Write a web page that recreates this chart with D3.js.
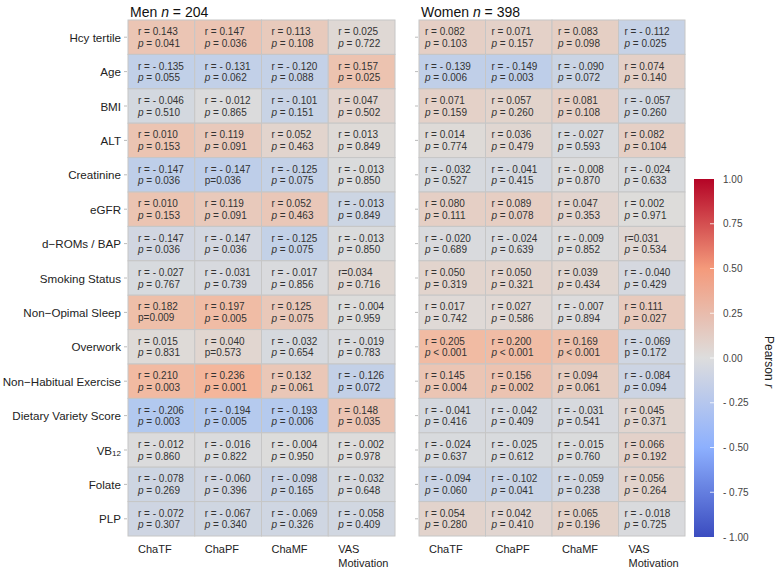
<!DOCTYPE html>
<html>
<head>
<meta charset="utf-8">
<script src="https://cdn.jsdelivr.net/npm/d3@7"></script>
<style>
  body { margin: 0; background: #fff; }
  svg text { font-family: "Liberation Sans", Arial, sans-serif; }
</style>
</head>
<body>
<div id="chart"></div>
<script>
// rows and columns
var rows = ["Hcy tertile", "Age", "BMI", "ALT", "Creatinine", "eGFR", "d\u2212ROMs / BAP",
  "Smoking Status", "Non\u2212Opimal Sleep", "Overwork", "Non\u2212Habitual Exercise",
  "Dietary Variety Score", "VB12", "Folate", "PLP"];
var cols = ["ChaTF", "ChaPF", "ChaMF", "VAS Motivation"];

// men, n = 204
var menR = [
  [0.143, 0.147, 0.113, 0.025],
  [-0.135, -0.131, -0.120, 0.157],
  [-0.046, -0.012, -0.101, 0.047],
  [0.010, 0.119, 0.052, 0.013],
  [-0.147, -0.147, -0.125, -0.013],
  [0.010, 0.119, 0.052, -0.013],
  [-0.147, -0.147, -0.125, -0.013],
  [-0.027, -0.031, -0.017, 0.034],
  [0.182, 0.197, 0.125, -0.004],
  [0.015, 0.040, -0.032, -0.019],
  [0.210, 0.236, 0.132, -0.126],
  [-0.206, -0.194, -0.193, 0.148],
  [-0.012, -0.016, -0.004, -0.002],
  [-0.078, -0.060, -0.098, -0.032],
  [-0.072, -0.067, -0.069, -0.058]
];
var menP = [
  ["0.041", "0.036", "0.108", "0.722"],
  ["0.055", "0.062", "0.088", "0.025"],
  ["0.510", "0.865", "0.151", "0.502"],
  ["0.153", "0.091", "0.463", "0.849"],
  ["0.036", "0.036", "0.075", "0.850"],
  ["0.153", "0.091", "0.463", "0.849"],
  ["0.036", "0.036", "0.075", "0.850"],
  ["0.767", "0.739", "0.856", "0.716"],
  ["0.009", "0.005", "0.075", "0.959"],
  ["0.831", "0.573", "0.654", "0.783"],
  ["0.003", "0.001", "0.061", "0.072"],
  ["0.003", "0.005", "0.006", "0.035"],
  ["0.860", "0.822", "0.950", "0.978"],
  ["0.269", "0.396", "0.165", "0.648"],
  ["0.307", "0.340", "0.326", "0.409"]
];

// women, n = 398
var womenR = [
  [0.082, 0.071, 0.083, -0.112],
  [-0.139, -0.149, -0.090, 0.074],
  [0.071, 0.057, 0.081, -0.057],
  [0.014, 0.036, -0.027, 0.082],
  [-0.032, -0.041, -0.008, -0.024],
  [0.080, 0.089, 0.047, 0.002],
  [-0.020, -0.024, -0.009, 0.031],
  [0.050, 0.050, 0.039, -0.040],
  [0.017, 0.027, -0.007, 0.111],
  [0.205, 0.200, 0.169, -0.069],
  [0.145, 0.156, 0.094, -0.084],
  [-0.041, -0.042, -0.031, 0.045],
  [-0.024, -0.025, -0.015, 0.066],
  [-0.094, -0.102, -0.059, 0.056],
  [0.054, 0.042, 0.065, -0.018]
];
var womenP = [
  ["0.103", "0.157", "0.098", "0.025"],
  ["0.006", "0.003", "0.072", "0.140"],
  ["0.159", "0.260", "0.108", "0.260"],
  ["0.774", "0.479", "0.593", "0.104"],
  ["0.527", "0.415", "0.870", "0.633"],
  ["0.111", "0.078", "0.353", "0.971"],
  ["0.689", "0.639", "0.852", "0.534"],
  ["0.319", "0.321", "0.434", "0.429"],
  ["0.742", "0.586", "0.894", "0.027"],
  ["< 0.001", "< 0.001", "< 0.001", "0.172"],
  ["0.004", "0.002", "0.061", "0.094"],
  ["0.416", "0.409", "0.541", "0.371"],
  ["0.637", "0.612", "0.760", "0.192"],
  ["0.060", "0.041", "0.238", "0.264"],
  ["0.280", "0.410", "0.196", "0.725"]
];

// cells whose shading in the figure differs from the printed r  [row, col, shade]
var menShade = [[3, 0, 0.15], [5, 0, 0.15], [5, 2, 0.13], [5, 3, -0.08], [6, 0, -0.06], [6, 1, -0.05]];
var womenShade = [];
// cells printed without spaces ("r=0.034", "p=0.036") or with an upright p
var menCompactR = [[7, 3]];
var menCompactP = [[4, 1], [8, 0], [9, 1]];
var womenCompactR = [[6, 3]];
var womenUprightP = [[9, 3]];

var barTicks = [1, 0.75, 0.5, 0.25, 0, -0.25, -0.5, -0.75, -1];
var barTickLabels = ["1.00", "0.75", "0.50", "0.25", "0.00", "- 0.25", "- 0.50", "- 0.75", "- 1.00"];

var W = 778, H = 580;
var svg = d3.select("#chart").append("svg").attr("width", W).attr("height", H);

var barColor = d3.scaleLinear()
    .domain([-1, -0.5, 0, 0.5, 1])
    .range(["#3b4cc0", "#8db0fe", "#dddddd", "#f49a7b", "#b40426"]);
var cellColor = d3.scaleLinear()
    .domain([-0.25, 0, 0.25])
    .range(["#a9c5f3", "#dddcdb", "#f5b497"])
    .clamp(true);

var y = d3.scaleBand().domain(rows).range([20, 536]);

function has(list, i, j) {
  return list.some(function(d) { return d[0] === i && d[1] === j; });
}

function panel(opt) {
  var x = d3.scaleBand().domain(cols).range(opt.range);
  var g = svg.append("g");
  var cells = [];
  opt.r.forEach(function(row, i) {
    row.forEach(function(v, j) {
      var s = opt.shade.filter(function(d) { return d[0] === i && d[1] === j; });
      cells.push({i: i, j: j, r: v, p: opt.p[i][j], shade: s.length ? s[0][2] : v});
    });
  });

  g.selectAll("rect.cell").data(cells).enter().append("rect")
    .attr("class", "cell")
    .attr("x", function(d) { return x(cols[d.j]); })
    .attr("y", function(d) { return y(rows[d.i]); })
    .attr("width", x.bandwidth())
    .attr("height", y.bandwidth())
    .attr("fill", function(d) { return cellColor(d.shade); })
    .attr("stroke", "#c6c6c6")
    .attr("stroke-width", 1);

  var fmt = d3.format(".3f");
  var txt = g.selectAll("g.lab").data(cells).enter().append("g")
    .attr("transform", function(d) {
      return "translate(" + (x(cols[d.j]) + opt.pad) + "," + (y(rows[d.i]) + y.bandwidth() / 2) + ")";
    })
    .style("font-size", "10px").attr("fill", "#333");

  txt.append("text").attr("y", -5.5).attr("dominant-baseline", "central")
    .text(function(d) {
      if (has(opt.compactR, d.i, d.j)) return "r=" + fmt(d.r);
      return d.r < 0 ? "r = - " + fmt(-d.r) : "r = " + fmt(d.r);
    });

  var pt = txt.append("text").attr("y", 5.5).attr("dominant-baseline", "central");
  pt.each(function(d) {
    var t = d3.select(this);
    if (has(opt.compactP, d.i, d.j)) { t.text("p=" + d.p); return; }
    var up = has(opt.uprightP, d.i, d.j);
    t.append("tspan").style("font-style", up ? "normal" : "italic").text("p");
    t.append("tspan").text(d.p.charAt(0) === "<" ? " " + d.p : " = " + d.p);
  });

  // small tick marks at row labels
  g.selectAll("line.tk").data(rows).enter().append("line")
    .attr("x1", opt.range[0] - 4).attr("x2", opt.range[0] - 1)
    .attr("y1", function(d) { return y(d) + y.bandwidth() / 2; })
    .attr("y2", function(d) { return y(d) + y.bandwidth() / 2; })
    .attr("stroke", "#aaa").attr("stroke-width", 0.8);

  // column labels
  var cl = g.selectAll("text.col").data(cols).enter().append("text")
    .attr("x", function(d) { return x(d) + 10; })
    .attr("y", 553)
    .style("font-size", "11px").attr("fill", "#222");
  cl.each(function(d) {
    var parts = d.split(" ");
    var t = d3.select(this);
    parts.forEach(function(s, k) {
      t.append("tspan").attr("x", x(d) + 10).attr("dy", k ? 14 : 0).text(s);
    });
  });

  // title
  var tt = g.append("text").attr("x", opt.range[0] + 2).attr("y", 17)
    .style("font-size", "14px").attr("fill", "#111");
  tt.append("tspan").text(opt.title + " ");
  tt.append("tspan").style("font-style", "italic").text("n");
  tt.append("tspan").text(" = " + opt.n);
  return g;
}

panel({range: [128, 395], r: menR, p: menP, shade: menShade, pad: 10,
  compactR: menCompactR, compactP: menCompactP, uprightP: [], title: "Men", n: 204});
panel({range: [419, 685], r: womenR, p: womenP, shade: womenShade, pad: 6,
  compactR: womenCompactR, compactP: [], uprightP: womenUprightP, title: "Women", n: 398});

// row labels (left of men panel)
var rl = svg.append("g").selectAll("text").data(rows).enter().append("text")
  .attr("x", 121)
  .attr("y", function(d) { return y(d) + y.bandwidth() / 2; })
  .attr("text-anchor", "end").attr("dominant-baseline", "central")
  .style("font-size", "11.6px").attr("fill", "#222");
rl.each(function(d) {
  var t = d3.select(this);
  if (d === "VB12") {
    t.append("tspan").text("VB");
    t.append("tspan").style("font-size", "8px").attr("dy", 3).text("12");
  } else {
    t.text(d);
  }
});

// colour bar
var cy = d3.scaleLinear().domain([-1, 1]).range([537, 179]);
var grad = svg.append("defs").append("linearGradient").attr("id", "cbar")
  .attr("x1", 0).attr("y1", 1).attr("x2", 0).attr("y2", 0);
grad.selectAll("stop").data(d3.range(0, 1.0001, 0.05)).enter().append("stop")
  .attr("offset", function(d) { return d; })
  .attr("stop-color", function(d) { return barColor(d * 2 - 1); });
svg.append("rect").attr("x", 694).attr("y", cy(1)).attr("width", 20)
  .attr("height", cy(-1) - cy(1)).attr("fill", "url(#cbar)");

svg.append("g").selectAll("line").data(barTicks.slice(1, -1)).enter().append("line")
  .attr("x1", 710).attr("x2", 714)
  .attr("y1", function(d) { return cy(d); }).attr("y2", function(d) { return cy(d); })
  .attr("stroke", "#fff").attr("stroke-width", 0.8);

svg.append("g").selectAll("text").data(barTicks).enter().append("text")
  .attr("x", 723).attr("y", function(d) { return cy(d); })
  .attr("dominant-baseline", "central")
  .style("font-size", "10px").attr("fill", "#444")
  .text(function(d, i) { return barTickLabels[i]; });

var pr = svg.append("text").attr("transform", "translate(765,362) rotate(90)")
  .attr("text-anchor", "middle").style("font-size", "12px").attr("fill", "#222");
pr.append("tspan").text("Pearson ");
pr.append("tspan").style("font-style", "italic").text("r");
</script>
</body>
</html>
